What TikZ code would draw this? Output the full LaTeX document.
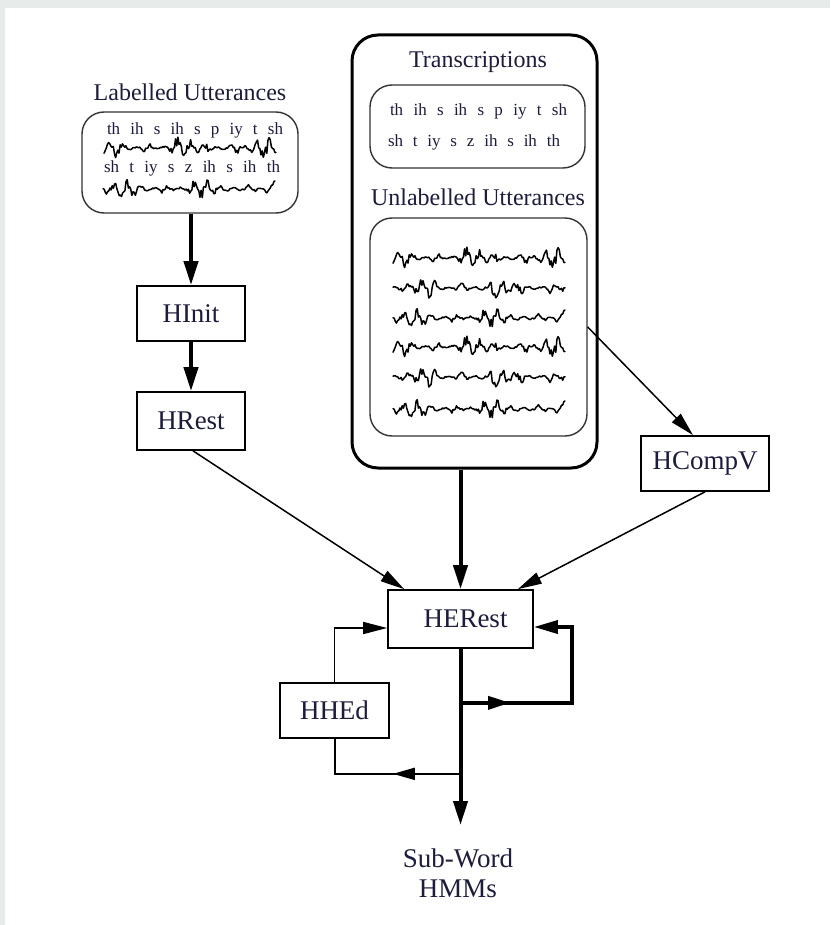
\documentclass[tikz,border=0pt]{standalone}
\usepackage{fontspec}
\setmainfont{Liberation Serif}
\usetikzlibrary{arrows.meta,decorations.markings,calc}
\definecolor{txt}{RGB}{28,28,60}
\definecolor{framegray}{RGB}{231,235,234}
\begin{document}
\begin{tikzpicture}[x=1pt,y=-1pt,
  lbl/.style={font=\fontsize{24}{26}\selectfont, text=txt, inner sep=0},
  prog/.style={draw, line width=1.7pt, minimum height=55pt, inner sep=0, font=\fontsize{27}{30}\selectfont, text=txt},
  rbox/.style={draw=black!80, line width=1.4pt, rounded corners=22pt, inner sep=0},
  ph/.style={font=\fontsize{17}{18}\selectfont, text=txt, inner sep=0},
  thickarr/.style={line width=4pt, -{Triangle[length=24pt,width=14pt]}},
  thinarr/.style={line width=1.5pt, -{Triangle[length=24pt,width=12pt]}},
  wave/.pic={\pgfmathsetseed{#1}
    \draw[line width=1.5pt, line join=round, line cap=round] plot[domain=0:172, samples=150, smooth, tension=0.25]
      (\x, {1.3*(1.3+6.5*(sin(\x*2.3+#1*40))^6+3.5*(sin(\x*6.1+#1*17))^8)*(0.55*sin(\x*27+#1*9)+0.45*rand)});}
]
\useasboundingbox (0,0) rectangle (830,925);
\fill[white] (0,0) rectangle (830,925);
\fill[framegray] (0,0) rectangle (830,8);
\fill[framegray] (0,0) rectangle (5,925);

% labelled utterances
\node[lbl] (lablbl) at (190,92) {Labelled Utterances};
\node[rbox, minimum width=216pt, minimum height=101pt] (lab) at (190,162.5) {};
\node[ph] (lp1) at (195,130) {\hbox to 176pt{th\hfil ih\hfil s\hfil ih\hfil s\hfil p\hfil iy\hfil t\hfil sh}};
\node[ph] (lp2) at (192,168) {\hbox to 176pt{sh\hfil t\hfil iy\hfil s\hfil z\hfil ih\hfil s\hfil ih\hfil th}};
\pic at (104,148) {wave=11};
\pic at (103,189) {wave=37};

% big box
\node[draw, line width=3pt, rounded corners=26pt, minimum width=245pt, minimum height=433pt, inner sep=0] (big) at (474.5,251.5) {};
\node[lbl] (translbl) at (478,62) {Transcriptions};
\node[rbox, minimum width=215pt, minimum height=83pt] (trans) at (477.5,126.5) {};
\node[ph] (tp1) at (478.5,111) {\hbox to 177pt{th\hfil ih\hfil s\hfil ih\hfil s\hfil p\hfil iy\hfil t\hfil sh}};
\node[ph] (tp2) at (474,142) {\hbox to 172pt{sh\hfil t\hfil iy\hfil s\hfil z\hfil ih\hfil s\hfil ih\hfil th}};
\node[lbl] (unllbl) at (478,197) {Unlabelled Utterances};
\node[rbox, minimum width=217pt, minimum height=218pt] (unl) at (478.5,327) {};
\pic at (393,258) {wave=11};
\pic at (393,288) {wave=23};
\pic at (393,318) {wave=37};
\pic at (393,347) {wave=11};
\pic at (393,377) {wave=23};
\pic at (393,409) {wave=37};

% programs
\node[prog, minimum width=108pt] (hinit) at (191,313.5) {HInit};
\node[prog, minimum width=108pt, minimum height=58pt] (hrest) at (191,421) {HRest};
\node[prog, minimum width=145pt, minimum height=58pt] (herest) at (460.5,619) {\hspace*{10pt}HERest};
\node[prog, minimum width=128pt] (hcompv) at (705,463.5) {HCompV};
\node[prog, minimum width=109pt] (hhed) at (334.5,710.5) {HHEd};
\node[font=\fontsize{27}{30}\selectfont, text=txt, align=center, inner sep=0] (hmm) at (458,873) {Sub-Word\\HMMs};
\coordinate (out) at (460.5,825);

% connectors
\draw[thickarr] (hinit.north |- lab.south) -- (hinit.north);
\draw[thickarr] (hinit.south) -- (hrest.north);
\draw[thinarr] ($(hrest.south)+(2,0)$) -- ($(herest.north west)+(17,0)$);
\draw[thickarr] (herest.north |- big.south) -- (herest.north);
\draw[thinarr] (unl.east) -- ($(hcompv.north)+(-12,0)$);
\draw[thinarr] (hcompv.south) -- ($(herest.north east)+(-16,0)$);
\draw[thickarr] (herest.south) -- (out);

\coordinate (rj) at ($(herest.south)+(0,54)$);
\coordinate (rc) at ($(rj)+(111.5,0)$);
\draw[line width=3.5pt, line join=miter, -{Triangle[length=24pt,width=13pt]},
  postaction={decorate}, decoration={markings, mark=at position 0.22 with {\arrow{Triangle[length=22pt,width=13pt]}}}]
  (rj) -- (rc) |- ($(herest.east)+(0,8)$);

\draw[line width=1.5pt, -{Triangle[length=24pt,width=12pt]}] (hhed.north) |- ($(herest.west)+(0,9)$);
\coordinate (lj) at ($(herest.south)+(0,125)$);
\draw[line width=2pt, postaction={decorate}, decoration={markings, mark=at position 0.42 with {\arrow{Triangle[length=22pt,width=12pt]}}}]
  (lj) -| (hhed.south);
\end{tikzpicture}
\end{document}
